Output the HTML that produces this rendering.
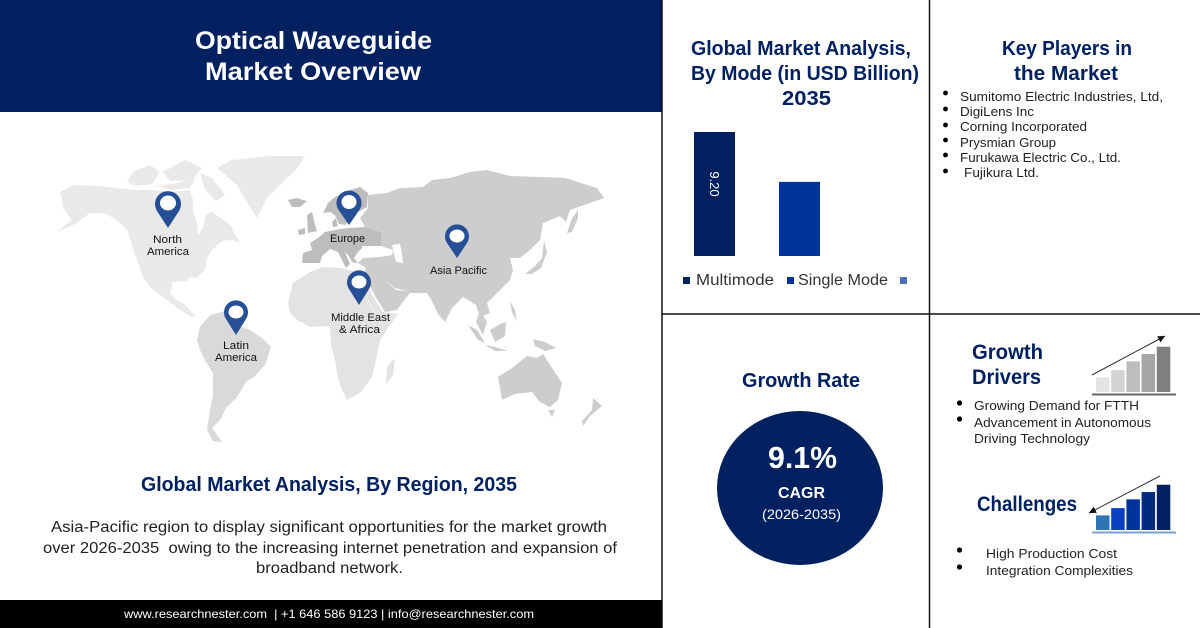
<!DOCTYPE html>
<html lang="en">
<head>
<meta charset="utf-8">
<title>Optical Waveguide Market Overview</title>
<style>
html,body{margin:0;padding:0;background:#fff;width:1200px;height:628px;overflow:hidden}
svg{display:block}
text{font-family:"Liberation Sans",sans-serif}
.t{fill:#002060;font-weight:700}
.b{fill:#222}
.m{fill:#111}
</style>
</head>
<body>
<svg id="page" width="1200" height="628" viewBox="0 0 1200 628" xmlns="http://www.w3.org/2000/svg">
<rect width="1200" height="628" fill="#fff"/>
<g>
<rect x="0" y="0" width="662" height="112" fill="#002060"/>
<text x="195" y="49" font-size="25" font-weight="700" fill="#fff" textLength="237" lengthAdjust="spacingAndGlyphs">Optical Waveguide</text>
<text x="205" y="80" font-size="25" font-weight="700" fill="#fff" textLength="216" lengthAdjust="spacingAndGlyphs">Market Overview</text>
</g>

<g>
<g fill="#e9e9e9">
<polygon points="62,200 60,192 73,185 100,186 117,188 135,190 150,190 170,192 190,190 193,200 193,212 197,222 198,235 203,228 206,214 212,212 222,219 230,225 240,243 232,240 222,241 212,250 207,258 205,270 197,278 190,277 187,281 173,282 170,293 176,300 183,303 190,310 196,317 190,316 180,310 163,297 150,287 143,277 137,260 132,245 127,230 117,220 104,213 90,213 75,224 57,232 72,220 66,212 63,208"/>
<polygon points="127,182 133,172 150,165 160,172 152,184 136,186"/>
<polygon points="163,172 185,160 202,168 192,180 170,181"/>
<polygon points="157,186 178,183 195,178 190,188 170,190"/>
<polygon points="200,173 212,178 225,195 216,201 205,190"/>
<polygon points="217,168 232,160 270,156 305,156 296,170 285,180 267,198 257,218 247,202 237,185"/>
</g>
<g fill="#d9d9d9">
<polygon points="197,340 200,327 210,315 225,311 237,325 250,330 262,338 271,347 265,365 255,376 246,382 237,397 226,408 220,420 212,428 222,442 213,441 207,430 210,410 213,395 213,373 206,362 200,350"/>
</g>
<g fill="#e3e3e3">
<polygon points="288,303 293,283 310,272 323,267 340,268 350,270 363,277 372,295 383,312 398,314 390,325 380,340 376,360 372,377 360,393 347,400 340,385 337,373 335,360 331,345 330,326 310,327 297,320 290,313"/>
<polygon points="387,367 395,358 393,375 386,384"/>
</g>
<g fill="#bdbdbd">
<polygon points="302,263 303,253 312,250 310,243 318,238 325,232 340,229 350,228 365,227 381,232 381,246 364,246 358,252 354,258 358,263 352,262 349,256 345,252 350,264 346,268 338,252 330,249 322,256 320,263"/>
<polygon points="323,213 328,203 335,197 350,190 360,187 368,193 367,207 358,212 352,218 345,225 339,224 335,215 330,212"/>
<polygon points="332,222 336,218 338,226 333,227"/>
<polygon points="307,215 312,212 315,225 317,231 308,233"/>
<polygon points="298,230 305,228 305,234 299,235"/>
<polygon points="288,200 297,198 307,201 300,207 292,207"/>
</g>
<g fill="#cdcdcd">
<polygon points="368,195 387,193 400,188 423,187 432,180 450,178 470,172 487,170 510,176 540,177 565,178 597,188 604,198 590,203 570,210 566,222 560,216 543,223 540,240 530,250 520,258 510,258 513,270 510,280 497,293 487,303 490,313 480,317 476,305 463,297 452,308 445,322 438,314 433,303 427,293 410,293 402,303 397,310 385,312 375,296 369,284 362,278 366,268 358,263 363,258 380,257 392,255 393,250 381,246 381,232 365,227 360,218 368,208"/>
<polygon points="567,233 572,218 578,210 578,218 572,232"/>
<polygon points="525,274 535,266 542,258 544,240 547,252 541,268 532,274"/>
<polygon points="468,325 477,330 485,343 478,340"/>
<polygon points="490,330 500,324 506,322 505,336 495,342"/>
<polygon points="485,345 495,347 508,351 495,351"/>
<polygon points="533,339 545,342 556,348 545,351 535,346"/>
<polygon points="510,301 515,310 517,322 512,312"/>
<polygon points="498,377 512,368 527,356 537,358 543,354 552,368 562,383 558,400 550,407 540,402 532,392 515,394 502,400"/>
<polygon points="548,410 555,410 552,417"/>
<polygon points="593,398 602,406 590,416 583,426 582,421 592,410"/>
<polygon points="480,310 487,322 483,335 476,322"/>
</g>
<g fill="#fff">
<polygon points="362,246 378,246 381,252 372,256 364,254"/>
<polygon points="392,245 400,244 402,254 403,263 396,262"/>
<polygon points="385,280 395,288 408,291 396,290"/>
<polygon points="363,290 378,318 372,308"/>
</g>
</g>

<g>
<path d="M168 228 L157 211 A13 13 0 1 1 179 211 Z" fill="#274f96"/>
<ellipse cx="168" cy="203" rx="8" ry="7.5" fill="#fff"/>
<text x="153" y="243" font-size="11" class="m" textLength="29" lengthAdjust="spacingAndGlyphs">North</text>
<text x="147" y="255" font-size="11" class="m" textLength="42" lengthAdjust="spacingAndGlyphs">America</text>
</g>
<g>
<path d="M349 225 L338 209 A12.5 12.5 0 1 1 360 209 Z" fill="#274f96"/>
<ellipse cx="349" cy="202" rx="7.5" ry="7" fill="#fff"/>
<text x="330" y="242" font-size="11" class="m" textLength="35" lengthAdjust="spacingAndGlyphs">Europe</text>
</g>
<g>
<path d="M457 258 L447 243 A12 12 0 1 1 467 243 Z" fill="#274f96"/>
<ellipse cx="457" cy="236" rx="7.5" ry="6.5" fill="#fff"/>
<text x="430" y="274" font-size="11" class="m" textLength="57" lengthAdjust="spacingAndGlyphs">Asia Pacific</text>
</g>
<g>
<path d="M359 305 L349 289 A12 12 0 1 1 369 289 Z" fill="#274f96"/>
<ellipse cx="359" cy="282" rx="7.5" ry="6.5" fill="#fff"/>
<text x="331" y="321" font-size="11" class="m" textLength="59" lengthAdjust="spacingAndGlyphs">Middle East</text>
<text x="339" y="333" font-size="11" class="m" textLength="41" lengthAdjust="spacingAndGlyphs">&amp; Africa</text>
</g>
<g>
<path d="M236 335 L226 319 A12 12 0 1 1 246 319 Z" fill="#274f96"/>
<ellipse cx="236" cy="312" rx="7.5" ry="6.5" fill="#fff"/>
<text x="223" y="349" font-size="11" class="m" textLength="26" lengthAdjust="spacingAndGlyphs">Latin</text>
<text x="215" y="361" font-size="11" class="m" textLength="42" lengthAdjust="spacingAndGlyphs">America</text>
</g>

<text x="141" y="491" font-size="20" class="t" textLength="376" lengthAdjust="spacingAndGlyphs">Global Market Analysis, By Region, 2035</text>
<g font-size="15.5" class="b">
<text x="51" y="532" textLength="556" lengthAdjust="spacingAndGlyphs">Asia-Pacific region to display significant opportunities for the market growth</text>
<text x="43" y="553" textLength="574" lengthAdjust="spacingAndGlyphs" xml:space="preserve">over 2026-2035  owing to the increasing internet penetration and expansion of</text>
<text x="256" y="573" textLength="147" lengthAdjust="spacingAndGlyphs">broadband network.</text>
</g>
<g>
<rect x="0" y="600" width="662" height="28" fill="#000"/>
<text x="124" y="618" font-size="12" fill="#fff" textLength="410" lengthAdjust="spacingAndGlyphs" xml:space="preserve">www.researchnester.com  | +1 646 586 9123 | info@researchnester.com</text>
</g>

<g stroke="#111" stroke-width="1.5">
<line x1="662" y1="0" x2="662" y2="628"/>
<line x1="929.5" y1="0" x2="929.5" y2="628"/>
<line x1="662" y1="314" x2="1200" y2="314"/>
</g>

<g font-size="20" class="t">
<text x="691" y="55" textLength="220" lengthAdjust="spacingAndGlyphs">Global Market Analysis,</text>
<text x="691" y="80" textLength="228" lengthAdjust="spacingAndGlyphs">By Mode (in USD Billion)</text>
<text x="782" y="105" textLength="49" lengthAdjust="spacingAndGlyphs">2035</text>
</g>
<g id="mode-chart"></g>

<g>
<g font-size="20" class="t">
<text x="1002" y="55" textLength="130" lengthAdjust="spacingAndGlyphs">Key Players in</text>
<text x="1014" y="80" textLength="104" lengthAdjust="spacingAndGlyphs">the Market</text>
</g>
<g font-size="13" class="b">
<circle cx="945.5" cy="93" r="2.4" fill="#000"/><text x="960" y="101" textLength="203" lengthAdjust="spacingAndGlyphs">Sumitomo Electric Industries, Ltd,</text>
<circle cx="945.5" cy="109" r="2.4" fill="#000"/><text x="960" y="116" textLength="74" lengthAdjust="spacingAndGlyphs">DigiLens Inc</text>
<circle cx="945.5" cy="125" r="2.4" fill="#000"/><text x="960" y="131" textLength="127" lengthAdjust="spacingAndGlyphs">Corning Incorporated</text>
<circle cx="945.5" cy="140" r="2.4" fill="#000"/><text x="960" y="147" textLength="96" lengthAdjust="spacingAndGlyphs">Prysmian Group</text>
<circle cx="945.5" cy="155" r="2.4" fill="#000"/><text x="960" y="162" textLength="161" lengthAdjust="spacingAndGlyphs">Furukawa Electric Co., Ltd.</text>
<circle cx="945.5" cy="171" r="2.4" fill="#000"/><text x="964" y="177" textLength="75" lengthAdjust="spacingAndGlyphs">Fujikura Ltd.</text>
</g>
</g>

<g>
<text x="742" y="387" font-size="20" class="t" textLength="118" lengthAdjust="spacingAndGlyphs">Growth Rate</text>
<ellipse cx="800" cy="488" rx="83" ry="77" fill="#002060"/>
<text x="768" y="468" font-size="31" font-weight="700" fill="#fff" textLength="69" lengthAdjust="spacingAndGlyphs">9.1%</text>
<text x="778" y="498" font-size="16" font-weight="700" fill="#fff" textLength="47" lengthAdjust="spacingAndGlyphs">CAGR</text>
<text x="762" y="519" font-size="13.5" fill="#fff" textLength="79" lengthAdjust="spacingAndGlyphs">(2026-2035)</text>
</g>

<g>
<g font-size="21" class="t">
<text x="972" y="359" textLength="71" lengthAdjust="spacingAndGlyphs">Growth</text>
<text x="972" y="384" textLength="69" lengthAdjust="spacingAndGlyphs">Drivers</text>
</g>
<g id="growth-icon"></g>
<g font-size="13" class="b">
<circle cx="959.5" cy="403" r="2.6" fill="#000"/><text x="974" y="410" textLength="165" lengthAdjust="spacingAndGlyphs">Growing Demand for FTTH</text>
<circle cx="959.5" cy="419" r="2.6" fill="#000"/><text x="974" y="427" textLength="177" lengthAdjust="spacingAndGlyphs">Advancement in Autonomous</text>
<text x="974" y="443" textLength="116" lengthAdjust="spacingAndGlyphs">Driving Technology</text>
</g>
</g>

<g>
<text x="977" y="511" font-size="21" class="t" textLength="100" lengthAdjust="spacingAndGlyphs">Challenges</text>
<g id="challenge-icon"></g>
<g font-size="13" class="b">
<circle cx="959.5" cy="550" r="2.6" fill="#000"/><text x="986" y="558" textLength="131" lengthAdjust="spacingAndGlyphs">High Production Cost</text>
<circle cx="959.5" cy="567" r="2.6" fill="#000"/><text x="986" y="575" textLength="147" lengthAdjust="spacingAndGlyphs">Integration Complexities</text>
</g>
</g>
</svg>
<script>
var modeCategories = ['Multimode', 'Single Mode', ''];
var modeValues = [9.20, 5.5, 0];
var modeLabels = ['9.20', '', ''];
var modeColors = ['#002060', '#00339a', '#4a70b8'];
var growthLevels = [1, 1.5, 2.1, 2.6, 3.1];
var growthColors = ['#e4e4e4', '#d4d4d4', '#bdbdbd', '#a6a6a6', '#7f7f7f'];
var challengeLevels = [1, 1.5, 2.1, 2.6, 3.1];
var challengeColors = ['#2e75b6', '#0a3fbf', '#00339a', '#002a80', '#002060'];

var NS = 'http://www.w3.org/2000/svg';
function mk(parent, tag, attrs) {
  var el = document.createElementNS(NS, tag);
  for (var k in attrs) { el.setAttribute(k, attrs[k]); }
  parent.appendChild(el);
  return el;
}

var chart = document.getElementById('mode-chart');
var baseY = 256;
function yScale(v) { return baseY - v * (124 / 9.2); }
function xScale(i) { return 694 + i * 85; }
modeValues.forEach(function (v, i) {
  if (v <= 0) { return; }
  var bar = mk(chart, 'rect', { x: xScale(i), y: yScale(v), width: 41, height: baseY - yScale(v), fill: modeColors[i] });
  
  
  if (modeLabels[i]) {
    var cy = (yScale(v) + baseY) / 2 - 10;
    var cx = xScale(i) + 20.5;
    var lab = mk(chart, 'text', { x: cx, y: cy, 'font-size': 13, fill: '#fff', 'text-anchor': 'middle', 'dominant-baseline': 'central', transform: 'rotate(90 ' + cx + ' ' + cy + ')' });
    lab.textContent = modeLabels[i];
    
    
  }
});
var legendBoxX = [683, 787, 900];
var legendWidths = [78, 90, 0];
modeCategories.forEach(function (c, i) {
  var sq = mk(chart, 'rect', { x: legendBoxX[i], y: 277, width: 7, height: 7, fill: modeColors[i] });
  
  
  if (c) {
    var t = mk(chart, 'text', { x: legendBoxX[i] + (i === 0 ? 13 : 11), y: 285, 'font-size': 15.5, fill: '#333', textLength: legendWidths[i], lengthAdjust: 'spacingAndGlyphs' });
    t.textContent = c;
    
    
  }
});

function barIcon(group, levels, colors, base, baseColor, lineFrom, lineTo) {
  levels.forEach(function (v, i) {
    var h = v * 14.6;
    var r = mk(group, 'rect', { x: 1096 + i * 15.2, y: base - h, width: 13.5, height: h, fill: colors[i] });
    
    
  });
  mk(group, 'rect', { x: 1092, y: base + 1.5, width: 84, height: 2, fill: baseColor });
  mk(group, 'line', { x1: lineFrom[0], y1: lineFrom[1], x2: lineTo[0], y2: lineTo[1], stroke: '#333', 'stroke-width': 1 });
  var dx = lineTo[0] - lineFrom[0], dy = lineTo[1] - lineFrom[1];
  var len = Math.sqrt(dx * dx + dy * dy), ux = dx / len, uy = dy / len, s = 7;
  var bx = lineTo[0] - ux * s, by = lineTo[1] - uy * s;
  mk(group, 'polygon', {
    points: lineTo[0] + ',' + lineTo[1] + ' ' + (bx - uy * 3.5) + ',' + (by + ux * 3.5) + ' ' + (bx + uy * 3.5) + ',' + (by - ux * 3.5),
    fill: '#111'
  });
}
barIcon(document.getElementById('growth-icon'), growthLevels, growthColors, 392, '#666', [1092, 375], [1165, 336]);
barIcon(document.getElementById('challenge-icon'), challengeLevels, challengeColors, 530, '#7b9fd4', [1160, 476], [1089, 513]);
</script>
</body>
</html>
